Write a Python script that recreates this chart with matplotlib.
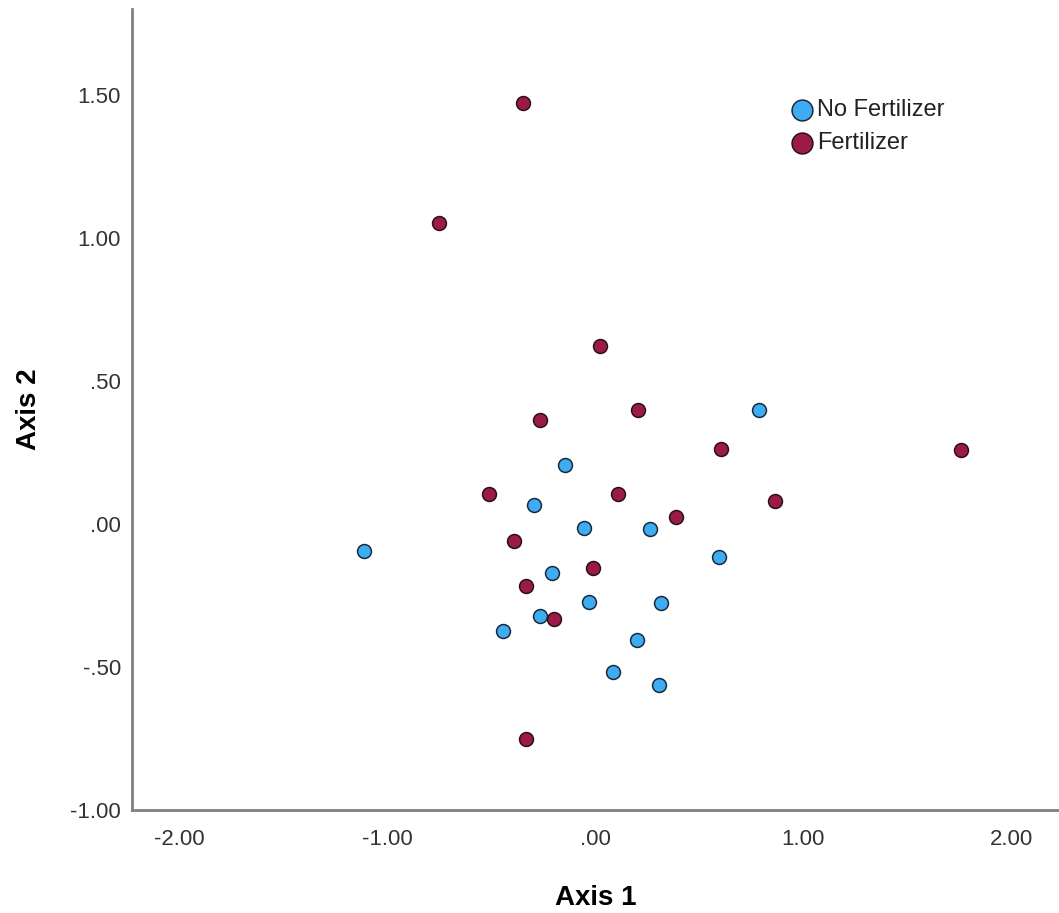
import matplotlib.pyplot as plt

# ===== DATA =====
no_fert_x = [0.788, -0.147, -0.298, -0.053, 0.264, -1.114, 0.593, -0.208,
             -0.030, 0.317, -0.268, -0.446, 0.200, 0.085, 0.308]
no_fert_y = [0.397, 0.205, 0.067, -0.015, -0.017, -0.094, -0.115, -0.172,
             -0.274, -0.277, -0.321, -0.374, -0.406, -0.517, -0.564]

fert_x = [-0.351, -0.755, 0.024, -0.268, 0.203, 0.604, 1.760, -0.510, 0.107,
          0.864, 0.385, -0.393, -0.011, -0.332, -0.200, -0.332]
fert_y = [1.472, 1.052, 0.622, 0.362, 0.400, 0.261, 0.260, 0.104, 0.104,
          0.081, 0.023, -0.061, -0.155, -0.216, -0.331, -0.751]

x_ticks = [-2.0, -1.0, 0.0, 1.0, 2.0]
x_labels = ["-2.00", "-1.00", ".00", "1.00", "2.00"]
y_ticks = [-1.0, -0.5, 0.0, 0.5, 1.0, 1.5]
y_labels = ["-1.00", "-.50", ".00", ".50", "1.00", "1.50"]

BLUE = "#3DACF2"
RED = "#9C1A47"

plt.rcParams["font.family"] = ["Liberation Sans", "DejaVu Sans"]

fig = plt.figure(figsize=(10.59, 9.13), dpi=100)
ax = fig.add_axes([0.1246, 0.1128, 0.8754, 0.8772])

ax.scatter(no_fert_x, no_fert_y, s=100, c=BLUE, edgecolors="#1a2a3a",
           linewidths=1.1, label="No Fertilizer", zorder=3)
ax.scatter(fert_x, fert_y, s=100, c=RED, edgecolors="#2a1018",
           linewidths=1.1, label="Fertilizer", zorder=3)

ax.set_xlim(-2.23, 2.23)
ax.set_ylim(-1.0, 1.8)
ax.set_xticks(x_ticks)
ax.set_xticklabels(x_labels)
ax.set_yticks(y_ticks)
ax.set_yticklabels(y_labels)
ax.tick_params(length=0, labelsize=16, colors="#333333", pad=8)
ax.tick_params(axis="x", pad=14)

for side in ["top", "right"]:
    ax.spines[side].set_visible(False)
for side in ["left", "bottom"]:
    ax.spines[side].set_color("#808080")
    ax.spines[side].set_linewidth(2)

ax.set_xlabel("Axis 1", fontsize=20, fontweight="bold", labelpad=25)
ax.set_ylabel("Axis 2", fontsize=20, fontweight="bold", labelpad=20)

leg = ax.legend(loc="upper left", bbox_to_anchor=(0.697, 0.902), frameon=False,
                fontsize=17, markerscale=1.5, handletextpad=0.15,
                handlelength=1.0, labelspacing=0.45, borderpad=0)
for t in leg.get_texts():
    t.set_color("#222222")

plt.savefig("out.png", dpi=100)
